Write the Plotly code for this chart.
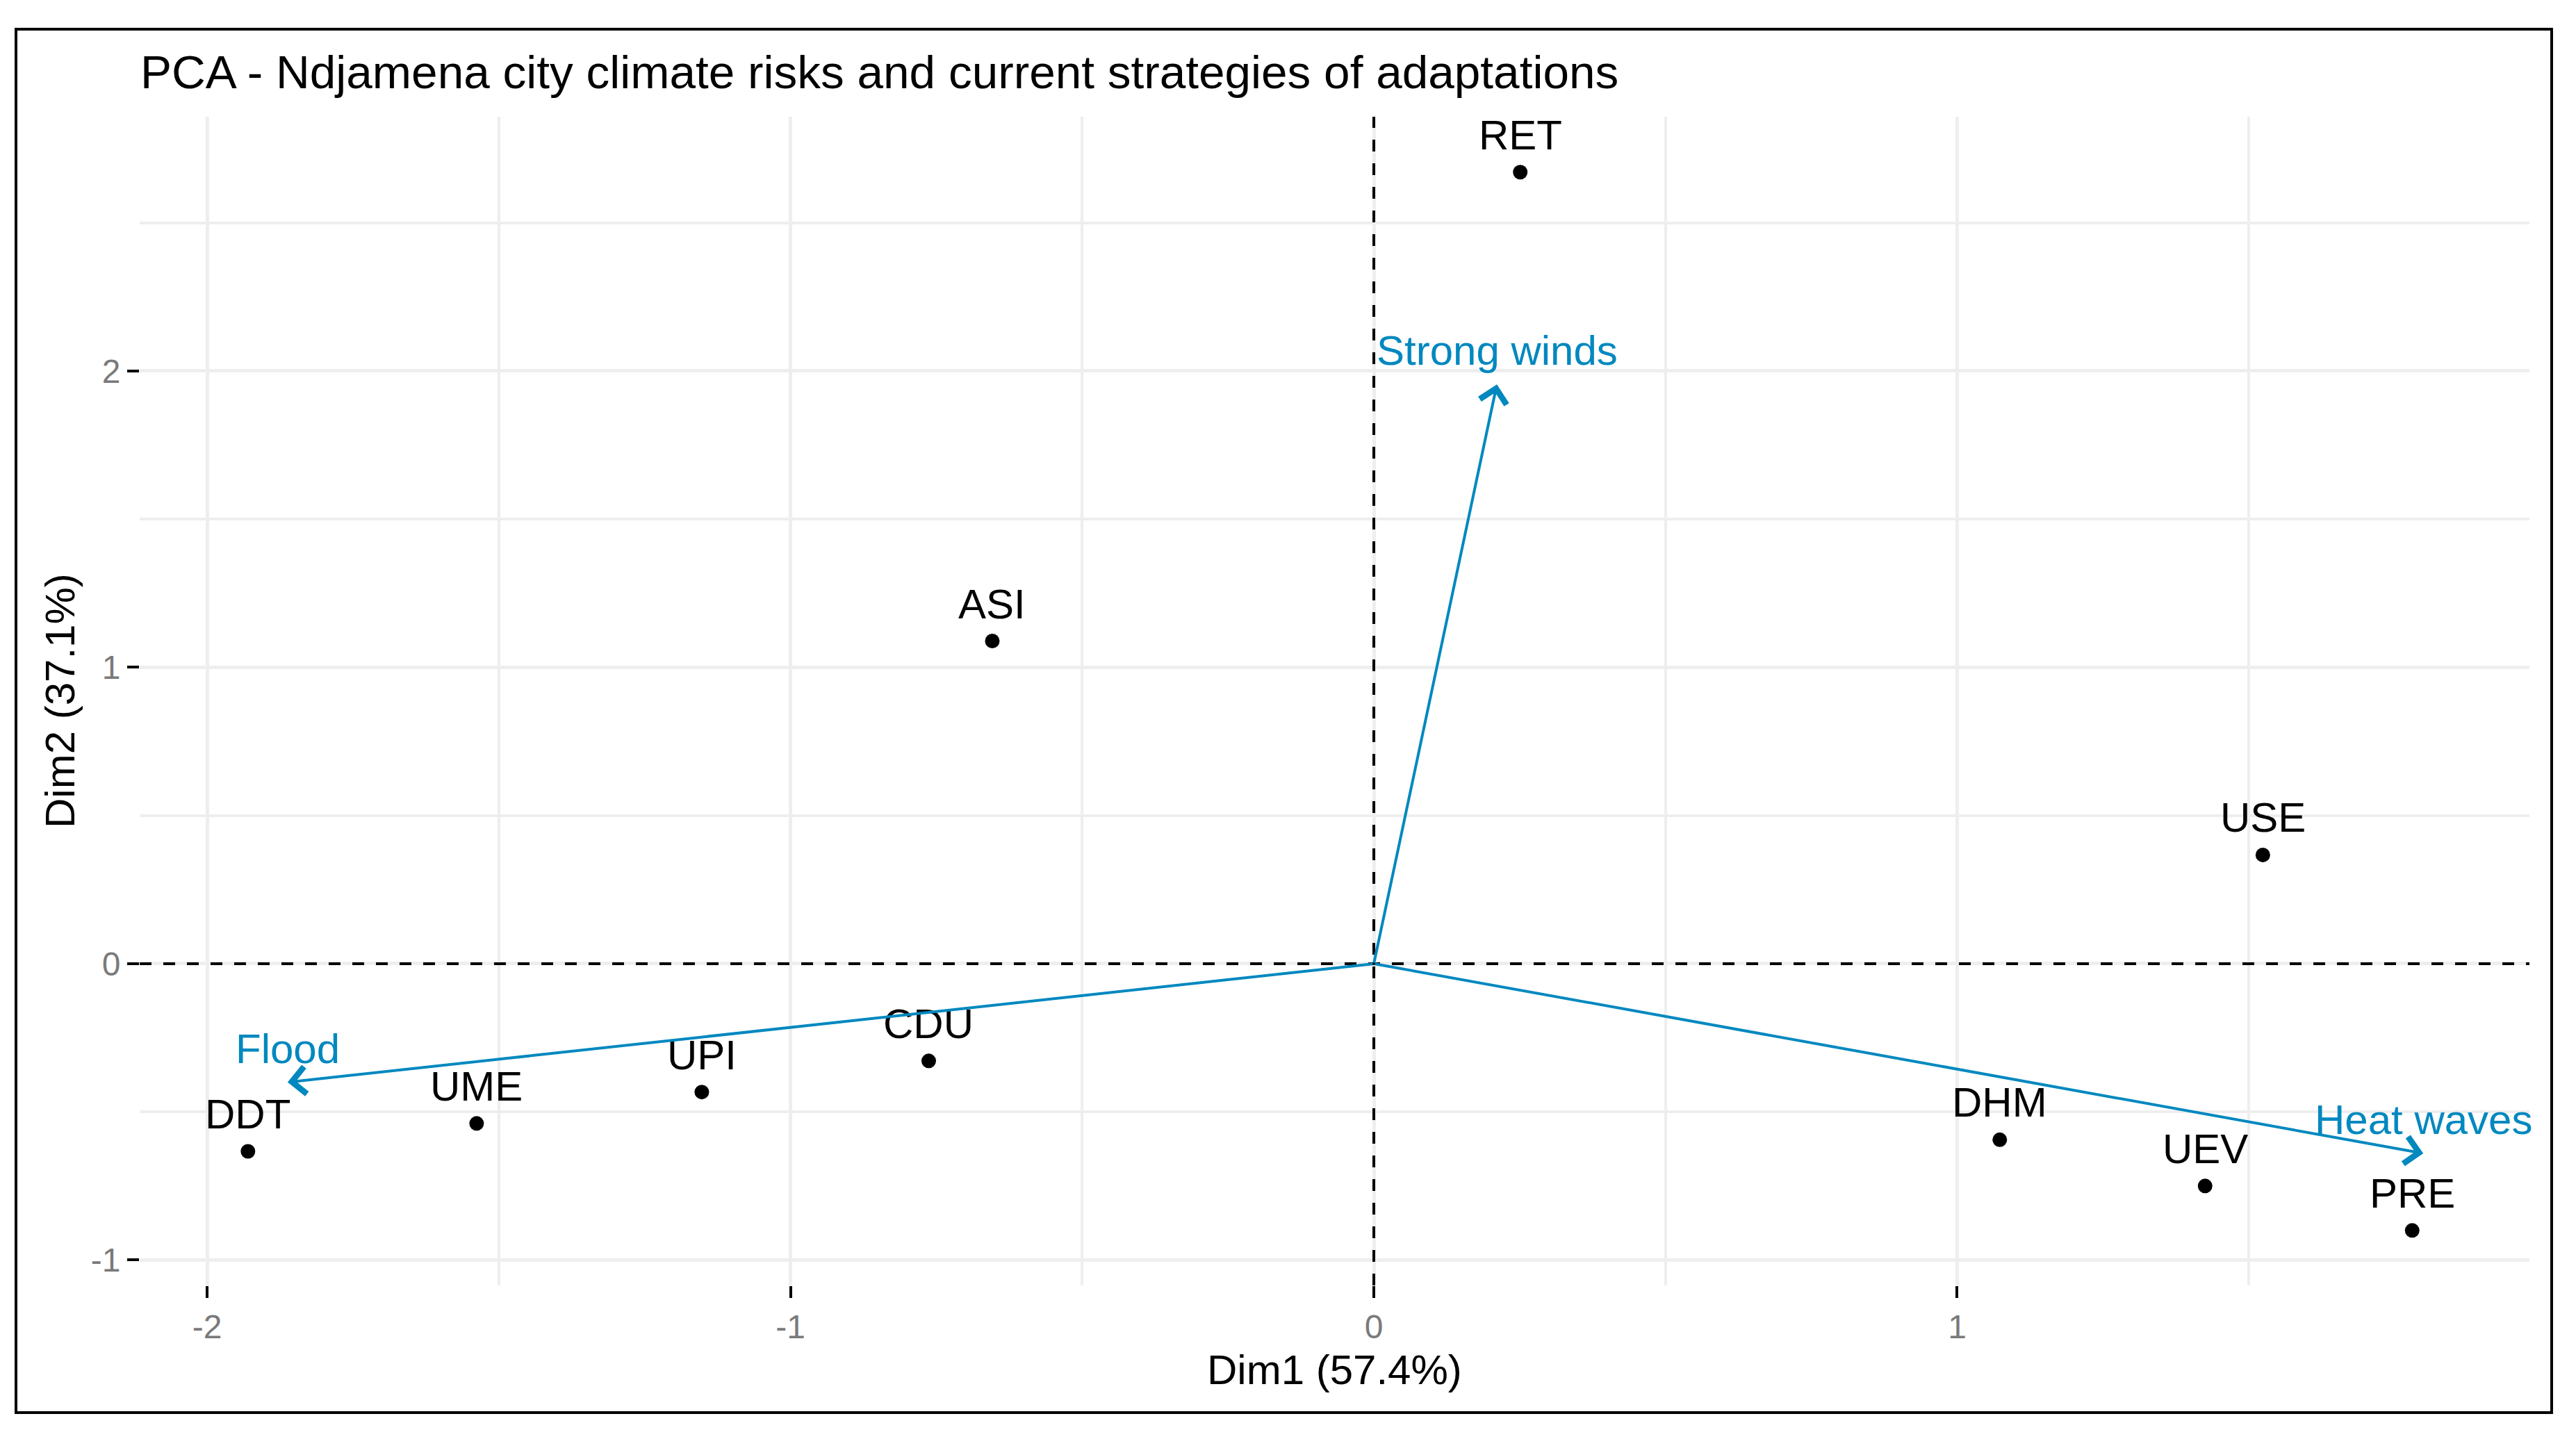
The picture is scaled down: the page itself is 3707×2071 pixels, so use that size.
import plotly.graph_objects as go

# ---- data ----
ind_names = ["RET", "ASI", "USE", "CDU", "UPI", "UME", "DDT", "DHM", "UEV", "PRE"]
ind_dim1 = [0.251, -0.654, 1.524, -0.763, -1.152, -1.538, -1.930, 1.073, 1.425, 1.780]
ind_dim2 = [2.671, 1.089, 0.367, -0.328, -0.433, -0.539, -0.633, -0.594, -0.750, -0.900]

var_names = ["Strong winds", "Flood", "Heat waves"]
var_dim1 = [0.211, -1.862, 1.799]
var_dim2 = [1.955, -0.400, -0.640]

x_ticks = [-2, -1, 0, 1]
x_ticktext = ["-2", "-1", "0", "1"]
y_ticks = [-1, 0, 1, 2]
y_ticktext = ["-1", "0", "1", "2"]

title_text = "PCA - Ndjamena city climate risks and current strategies of adaptations"
x_title = "Dim1 (57.4%)"
y_title = "Dim2 (37.1%)"

# ---- styles ----
FONT = "Liberation Sans, Arial, sans-serif"
BLUE = "#0088BF"
GRID = "#EEEEEE"
W, H = 3707, 2071
L, R, T, B = 201, 67, 168, 221

fig = go.Figure()

fig.add_trace(go.Scatter(
    x=ind_dim1, y=ind_dim2, mode="markers",
    marker=dict(color="black", size=21, line=dict(width=0)),
    hoverinfo="text", text=ind_names, showlegend=False,
))

annotations = []
# point labels
for n, x, y in zip(ind_names, ind_dim1, ind_dim2):
    annotations.append(dict(
        x=x, y=y, xref="x", yref="y", text=n, showarrow=False,
        xanchor="center", yanchor="bottom", yshift=18,
        font=dict(family=FONT, size=60, color="black"),
    ))
# variable arrows and labels
for n, x, y in zip(var_names, var_dim1, var_dim2):
    annotations.append(dict(
        x=x, y=y, xref="x", yref="y", ax=0, ay=0, axref="x", ayref="y",
        text="", showarrow=True, arrowhead=4, arrowsize=1.9, arrowwidth=4,
        arrowcolor=BLUE, standoff=0,
    ))
    annotations.append(dict(
        x=x, y=y, xref="x", yref="y", text=n, showarrow=False,
        xanchor="center", yanchor="bottom", yshift=13,
        font=dict(family=FONT, size=60, color=BLUE),
    ))
# title
annotations.append(dict(
    x=0, y=1, xref="paper", yref="paper", text=title_text, showarrow=False,
    xanchor="left", yanchor="bottom", xshift=-1, yshift=25,
    font=dict(family=FONT, size=67.5, color="black"),
))
# axis titles
annotations.append(dict(
    x=0.5, y=0, xref="paper", yref="paper", text=x_title, showarrow=False,
    xanchor="center", yanchor="bottom", yshift=-157,
    font=dict(family=FONT, size=60, color="black"),
))
annotations.append(dict(
    x=0, y=0.5, xref="paper", yref="paper", text=y_title, showarrow=False,
    textangle=-90, xanchor="center", yanchor="middle", xshift=-115,
    font=dict(family=FONT, size=60, color="black"),
))

shapes = [
    # dashed reference lines
    dict(type="line", xref="x", yref="paper", x0=0, x1=0, y0=0, y1=1,
         line=dict(color="black", width=4, dash="17px,17px"), layer="above"),
    dict(type="line", xref="paper", yref="y", x0=0, x1=1, y0=0, y1=0,
         line=dict(color="black", width=4, dash="17px,17px"), layer="above"),
    # outer frame
    dict(type="rect", xref="paper", yref="paper",
         x0=(23 - L) / (W - L - R), x1=(3672 - L) / (W - L - R),
         y0=-(2033 - (H - B)) / (H - T - B), y1=1 + (T - 42) / (H - T - B),
         line=dict(color="black", width=4), fillcolor="rgba(0,0,0,0)", layer="above"),
]

axis_common = dict(
    showline=False, zeroline=False,
    showgrid=True, gridcolor=GRID, gridwidth=4.5,
    ticks="outside", ticklen=17, tickwidth=4, tickcolor="black",
    tickfont=dict(family=FONT, size=48, color="#7A7A7A"),
    minor=dict(dtick=0.5, showgrid=True, gridcolor=GRID, gridwidth=4, ticks=""),
)

fig.update_layout(
    width=W, height=H,
    margin=dict(l=L, r=R, t=T, b=B),
    paper_bgcolor="white", plot_bgcolor="white",
    xaxis=dict(range=[-2.1156, 1.981], tickvals=x_ticks, ticktext=x_ticktext, **axis_common),
    yaxis=dict(range=[-1.0856, 2.858], tickvals=y_ticks, ticktext=y_ticktext, **axis_common),
    annotations=annotations, shapes=shapes, showlegend=False,
    font=dict(family=FONT),
)

fig.write_html("out.html", config={"displayModeBar": False},
               post_script="document.body.style.margin='0';")
